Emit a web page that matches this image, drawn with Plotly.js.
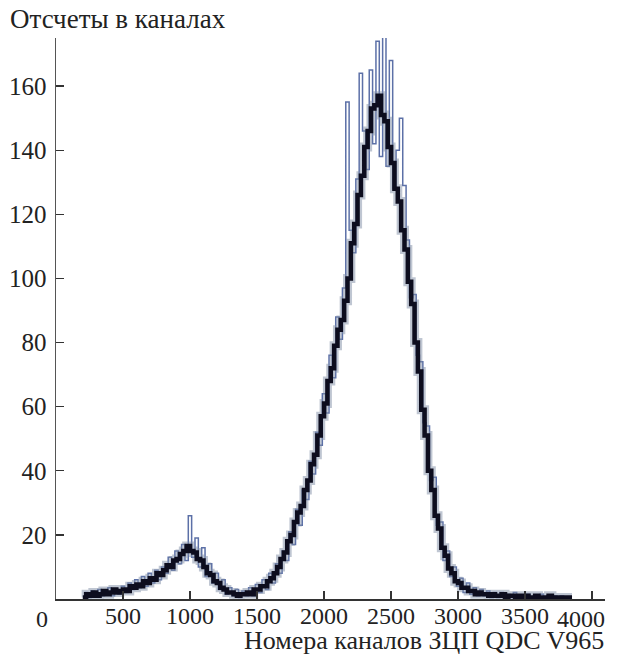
<!DOCTYPE html>
<html>
<head>
<meta charset="utf-8">
<script src="https://cdn.plot.ly/plotly-3.0.1.min.js"></script>
<style>body{margin:0;padding:0;background:#fff}#chart{width:618px;height:657px}</style>
</head>
<body>
<div id="chart"></div>
<script>
// Channel numbers of the main (black) trace: 200..3850 step 25
const coreStart = 200, coreStep = 25;
const coreCounts = [
  0.5,1.5,1,2,1,1.5,2.5,1.5,2,3,2,2.5,
  3,2.5,4,3.5,4.5,4,5.5,5,6.5,6,8,7.5,
  9,10.5,10,12,12.5,14,15,16.5,15,14.5,12.5,12,
  10,8,7.5,5.5,5,3.5,3,2,2,1.5,1,1.5,
  1.5,2,1.5,3,3,4,4,5.5,6.5,8,10,12.5,
  14.5,18,20,24,27,29,34,37,42,45,51,57,
  61,68,72,79,84,87,93,100,111,117,126,132,
  141,146,153,154,157,151,149,141,136,128,124,115,
  109,99,92,80,71,59,51,40,34,26,22,16,
  13.5,9.5,8,5.5,5,3.5,3.5,2.5,2.5,1.5,2,1.5,
  1.5,1,1.5,1,1,1.5,0.5,1,1,0.5,1,0.5,
  1,0.5,0.5,1,0.5,0.5,0.5,1,0.5,0.5,0.5,0.5,
  0.5,0.5,0.5
];
// Channel numbers of the scattered (blue) trace: 212..3837 step 25
const altStart = 212, altStep = 25;
const altCounts = [
  2,0.5,2.5,1,3,1,2,3.5,1,3,1.5,4,
  2,5,3,6,3.5,7,4,8,5,9,6,10,
  8,13,9,15,11,17,12,26,13,19,10,16,
  7,11,5,8,3,6,1.5,3.5,1,3,0.5,2.5,
  1,3.5,1,4.5,2,6,3,8,5,11,8,15,
  12,21,17,28,23,34,31,43,39,52,48,64,
  58,76,69,88,81,97,155,115,108,131,164,146,
  134,165,142,174,138,176,135,168,128,140,150,129,
  112,94,95,76,74,55,54,37,38,23,24,12,
  15,7,10,4,6.5,2,5,1.5,3.5,1,3,1,
  2.5,0.5,2,0.5,2,0.5,1.5,0.5,2,0.5,1,0.5,
  1.5,0.5,1,0.5,1.5,0.5,1,0.5,1,0.5,1,0.5,
  0.5,0.5
];
const xTickVals = [500,1000,1500,2000,2500,3000,3500,4000];
const xTickText = ["500","1000","1500","2000","2500","3000","3500",""];
const yTickVals = [20,40,60,80,100,120,140,160];
const yTickText = ["20","40","60","80","100","120","140","160"];

const coreX = coreCounts.map((_, i) => coreStart + i * coreStep);
const altX = altCounts.map((_, i) => altStart + i * altStep);

const FONT = 'Liberation Serif, Times New Roman, serif';
const TICK = 24, TITLE = 26;

const traces = [
  {x: altX, y: altCounts, type: 'scatter', mode: 'lines', line: {color: '#26408a', width: 1.5, shape: 'hv'}, opacity: 0.75, hoverinfo: 'skip'},
  {x: coreX, y: coreCounts, type: 'scatter', mode: 'lines', line: {color: '#7f8ea6', width: 9, shape: 'hv'}, opacity: 0.5, hoverinfo: 'skip'},
  {x: coreX, y: coreCounts, type: 'scatter', mode: 'lines', line: {color: '#0d0d1e', width: 4.5, shape: 'hv'}, hoverinfo: 'skip'}
];

const layout = {
  width: 618, height: 657,
  margin: {l: 56, r: 13, t: 38, b: 58},
  paper_bgcolor: '#fff', plot_bgcolor: '#fff',
  showlegend: false,
  font: {family: FONT, size: TICK, color: '#222'},
  xaxis: {
    range: [0, 4096], tickvals: xTickVals, ticktext: xTickText,
    ticks: 'inside', ticklen: 8, tickwidth: 1.3, tickcolor: '#333',
    showline: true, linecolor: '#333', linewidth: 1.5,
    showgrid: false, zeroline: false,
    ticklabelstandoff: -5,
    tickfont: {family: FONT, size: TICK, color: '#222'}
  },
  yaxis: {
    range: [0, 175], tickvals: yTickVals, ticktext: yTickText,
    ticks: 'inside', ticklen: 8, tickwidth: 1.3, tickcolor: '#333',
    showline: true, linecolor: '#555', linewidth: 1.5,
    showgrid: false, zeroline: false,
    ticklabelstandoff: 3,
    tickfont: {family: FONT, size: 25, color: '#222'}
  },
  annotations: [
    {text: 'Отсчеты в каналах', xref: 'paper', yref: 'paper', x: (8-56)/549, y: 1, xanchor: 'left', yanchor: 'bottom', yshift: 2, showarrow: false, font: {family: FONT, size: 27, color: '#222'}},
    {text: 'Номера каналов ЗЦП QDC V965', xref: 'paper', yref: 'paper', x: 1, y: 0, xanchor: 'right', yanchor: 'top', yshift: -25, xshift: 1, showarrow: false, font: {family: FONT, size: TITLE, color: '#222'}},
    {text: '0', xref: 'paper', yref: 'paper', x: (42-56)/549, y: 0, xanchor: 'center', yanchor: 'top', yshift: -5, showarrow: false, font: {family: FONT, size: TICK, color: '#222'}},
    {text: '4000', xref: 'paper', yref: 'paper', x: (581-56)/549, y: 0, xanchor: 'center', yanchor: 'top', yshift: -5, showarrow: false, font: {family: FONT, size: TICK, color: '#222'}}
  ]
};

Plotly.newPlot('chart', traces, layout, {staticPlot: true, displayModeBar: false});
</script>
</body>
</html>
